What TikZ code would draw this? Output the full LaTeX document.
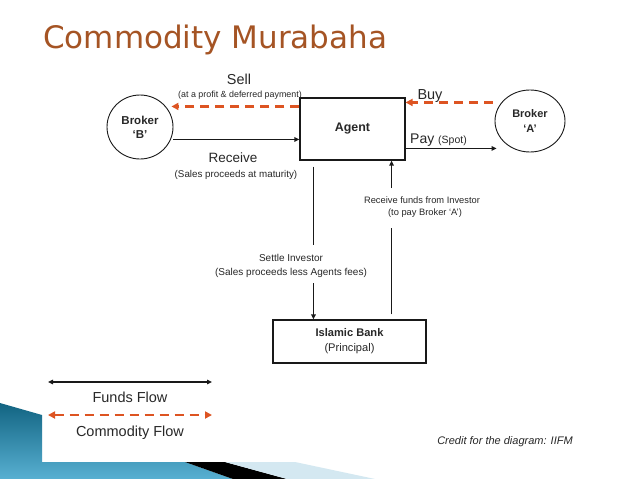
\documentclass[tikz,border=0pt]{standalone}
\usepackage{fontspec}
\setmainfont{Liberation Sans}
\newfontfamily\titlefont{DejaVu Sans}
\usetikzlibrary{arrows.meta,shapes.geometric}
\definecolor{ttl}{RGB}{165,84,36}
\definecolor{orng}{RGB}{221,84,34}
\definecolor{ink}{RGB}{25,25,25}
\definecolor{txt}{RGB}{40,40,40}
\definecolor{tealD}{RGB}{18,100,130}
\definecolor{tealL}{RGB}{88,176,210}
\definecolor{paleB}{RGB}{212,232,241}
\newcommand\fsz[1]{\fontsize{#1}{#1}\selectfont}
\begin{document}
\begin{tikzpicture}[x=1pt,y=-1pt,
  box/.style={draw=ink, line width=1.1pt, rectangle, inner sep=0, text=txt},
  brk/.style={draw=ink, line width=0.9pt, ellipse, inner sep=0, text=txt, align=center},
  funds/.style={draw=ink, line width=1.3pt, -{Triangle[length=5pt,width=4.5pt]}},
  fundsline/.style={draw=ink, line width=1.3pt},
  commod/.style={draw=orng, line width=2.4pt, dash pattern=on 9pt off 6pt, -{Triangle[length=7pt,width=7pt]}},
  lbl/.style={text=txt, inner sep=0, anchor=base}
]
\useasboundingbox (0,0) rectangle (638,479);
\fill[white] (0,0) rectangle (638,479);
% background decoration
\shade[top color=tealD, bottom color=tealL] (0,403) -- (42,415) -- (42,462) -- (185,462) -- (233,479) -- (0,479) -- cycle;
\fill[black] (185,462) -- (225,462) -- (287,479) -- (233,479) -- cycle;
\fill[paleB] (225,462) -- (295,462) -- (375,479) -- (287,479) -- cycle;

% title
\node[anchor=base west, inner sep=0, text=ttl, font=\titlefont\fsz{31}] (title) at (43,48) {Commodity Murabaha};

% main nodes
\node[brk, minimum width=66pt, minimum height=64pt, font=\bfseries\fontsize{11.5}{14}\selectfont] (brokerB) at (140,127) {Broker\\‘B’};
\node[box, minimum width=105pt, minimum height=62pt, font=\bfseries\fsz{12.4}] (agent) at (352.5,129) {Agent};
\node[brk, minimum width=70pt, minimum height=62pt, font=\bfseries\fontsize{11}{15}\selectfont] (brokerA) at (530,121) {Broker\\‘A’};
\node[box, minimum width=153pt, minimum height=43pt, align=center, font=\fontsize{11.1}{15}\selectfont] (bank) at (349.5,341.5) {{\bfseries Islamic Bank}\\(Principal)};

% labels
\node[lbl, font=\fsz{14.4}] (sell) at (239,84) {Sell};
\node[lbl, font=\fsz{8.9}] (sellsub) at (240,97) {(at a profit \& deferred payment)};
\node[lbl, font=\fsz{13.5}] (rcv) at (233,162) {Receive};
\node[lbl, font=\fsz{9.8}] (rcvsub) at (236,177) {(Sales proceeds at maturity)};
\node[lbl, font=\fsz{14.5}] (buy) at (430,99) {Buy};
\node[lbl, anchor=base west, font=\fsz{14}] (pay) at (410,143) {Pay {\fsz{10.5}(Spot)}};
\node[lbl, font=\fsz{10}] (set1) at (291,261) {Settle Investor};
\node[lbl, font=\fsz{10}] (set2) at (291,275) {(Sales proceeds less Agents fees)};
\node[lbl, font=\fsz{9.3}] (rf1) at (422,203) {Receive funds from Investor};
\node[lbl, font=\fsz{9.3}] (rf2) at (425,215) {(to pay Broker ‘A’)};

% connectors
\coordinate (sellA) at ([yshift=-9pt]agent.north west);
\draw[commod, shorten >=-2pt] (sellA) -- (sellA -| brokerB.east);
\coordinate (rcvA) at ([yshift=-42pt]agent.north west);
\draw[funds] (rcvA -| brokerB.east) -- (rcvA);
\coordinate (buyA) at ([yshift=-5pt]agent.north east);
\draw[commod] ([xshift=-2pt]buyA -| brokerA.west) -- (buyA);
\coordinate (payA) at ([yshift=-51pt]agent.north east);
\draw[funds, shorten >=-2pt] (payA) -- (payA -| brokerA.west);

\coordinate (setTop) at ([xshift=14pt,yshift=-6pt]agent.south west);
\coordinate (setMidA) at (setTop |- 0,245);
\coordinate (setMidB) at (setTop |- 0,283);
\draw[fundsline] (setTop) -- (setMidA);
\draw[funds] (setMidB) -- (setMidB |- bank.north);

\coordinate (rfX) at ([xshift=-14pt]agent.south east);
\coordinate (rfBot) at ([yshift=5pt]bank.north -| rfX);
\coordinate (rfMidA) at (rfX |- 0,228);
\coordinate (rfMidB) at (rfX |- 0,188);
\draw[fundsline] (rfBot) -- (rfMidA);
\draw[funds] (rfMidB) -- (rfX);

% legend
\coordinate (lgA) at (48,382);
\coordinate (lgB) at (212,382);
\draw[funds, {Triangle[length=5pt,width=4.5pt]}-{Triangle[length=5pt,width=4.5pt]}] (lgA) -- (lgB);
\node[lbl, font=\fsz{14.5}] (lgfunds) at (130,402) {Funds Flow};
\coordinate (lgC) at (48,415);
\coordinate (lgD) at (212,415);
\draw[commod, {Triangle[length=7pt,width=7pt]}-{Triangle[length=7pt,width=7pt]}] (lgC) -- (lgD);
\node[lbl, font=\fsz{14.5}] (lgcomm) at (130,436) {Commodity Flow};

\node[lbl, font=\itshape\fsz{11}] (credit) at (505,444) {Credit for the diagram: IIFM};
\end{tikzpicture}
\end{document}
